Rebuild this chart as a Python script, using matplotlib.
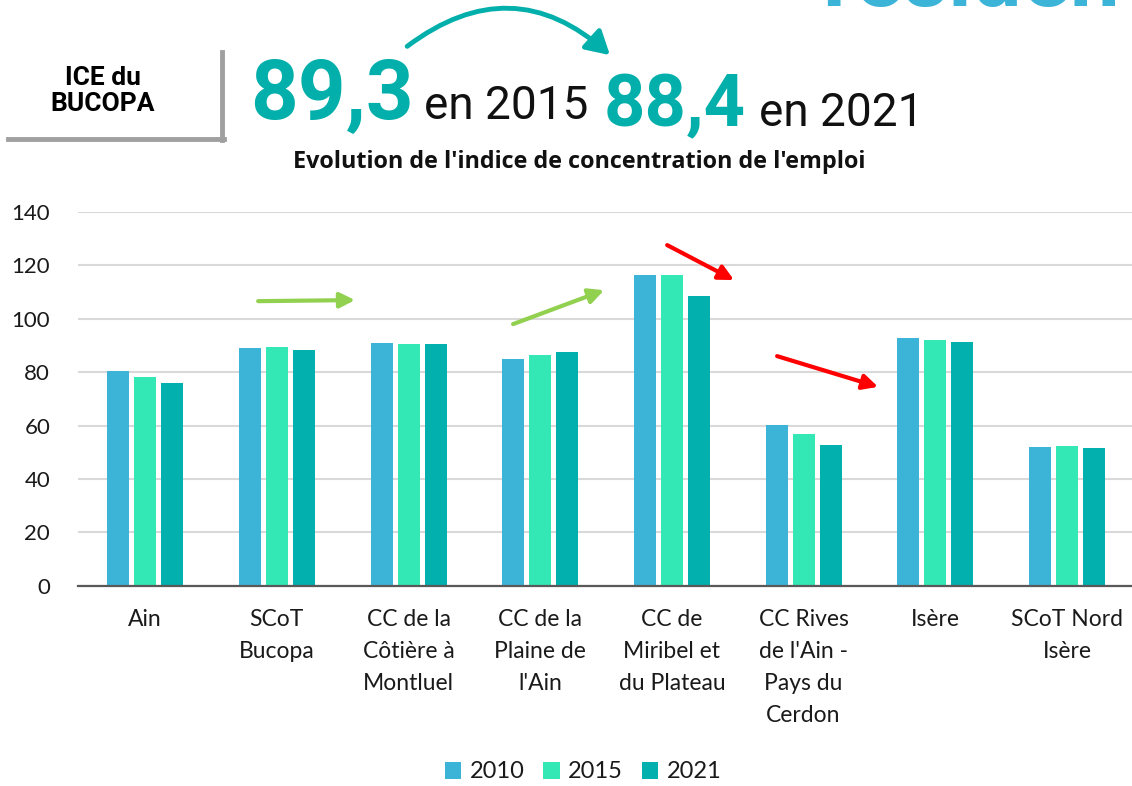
import matplotlib
matplotlib.use("Agg")
import matplotlib.pyplot as plt
import numpy as np
from matplotlib.patches import FancyArrowPatch
from matplotlib.lines import Line2D

categories = ["Ain", "SCoT\nBucopa", "CC de la\nCôtière à\nMontluel", "CC de la\nPlaine de\nl'Ain",
              "CC de\nMiribel et\ndu Plateau", "CC Rives\nde l'Ain -\nPays du\nCerdon", "Isère",
              "SCoT Nord\nIsère"]
years = ["2010", "2015", "2021"]
v2010 = [80.3, 88.9, 91.0, 84.8, 116.3, 60.2, 92.8, 52.0]
v2015 = [78.2, 89.3, 90.4, 86.4, 116.3, 56.8, 92.1, 52.5]
v2021 = [75.8, 88.4, 90.6, 87.7, 108.5, 52.7, 91.3, 51.6]
series = [v2010, v2015, v2021]
colors = ["#3CB4D7", "#33E8B5", "#02B0AD"]
yticks = [0, 20, 40, 60, 80, 100, 120, 140]

W, H = 1132, 786
fig = plt.figure(figsize=(W / 100, H / 100), dpi=100)

def fx(px):
    return px / W

def fy(py):
    return 1 - py / H

ax = fig.add_axes([fx(78), fy(585.7), fx(1132) - fx(78), fy(212) - fy(585.7)])
x = np.arange(len(categories))
bw = 0.167
step = 0.205
for i, (vals, c, yr) in enumerate(zip(series, colors, years)):
    ax.bar(x + (i - 1) * step, vals, width=bw, color=c, label=yr, zorder=3)

ax.set_xlim(-0.51, 7.494)
ax.set_ylim(0, 140)
ax.set_yticks(yticks)
ax.set_xticks(x)
ax.set_xticklabels(categories, fontsize=16.5, family="Lato", linespacing=1.65, color="#1a1a1a")
ax.tick_params(axis="y", labelsize=16, length=0, pad=20, labelcolor="#1a1a1a")
ax.tick_params(axis="x", length=0, pad=17)
for lab in ax.get_yticklabels():
    lab.set_family("Lato")
ax.grid(axis="y", color="#D9D9D9", lw=1.5, zorder=0)
for s in ["left", "right", "top"]:
    ax.spines[s].set_visible(False)
ax.spines["bottom"].set_color("#595959")
ax.spines["bottom"].set_linewidth(1.6)
ax.spines["bottom"].set_zorder(4)

# trend arrows (data coordinates)
def arr(p0, p1, col):
    ax.annotate("", xy=p1, xytext=p0,
                arrowprops=dict(arrowstyle="-|>,head_length=0.9,head_width=0.45", color=col,
                                lw=3, shrinkA=0, shrinkB=0), annotation_clip=False)

arr((0.858, 106.6), (1.594, 107.0), "#92D050")
arr((2.794, 98.0), (3.485, 110.7), "#92D050")
arr((3.964, 127.6), (4.472, 114.5), "#FF0000")
arr((4.799, 86.0), (5.566, 74.5), "#FF0000")

leg = fig.legend(loc="center", bbox_to_anchor=(fx(583), fy(772)), ncol=3, frameon=False,
                 prop={"family": "Lato", "size": 17}, handlelength=0.7, handleheight=0.7,
                 handletextpad=0.35, columnspacing=0.8)
for t in leg.get_texts():
    t.set_color("#1a1a1a")

# header
teal = "#02AFAA"
fig.text(fx(103), fy(91), "ICE du\nBUCOPA", ha="center", va="center", fontsize=19,
         family="Roboto", weight="bold", linespacing=1.1)
fig.add_artist(Line2D([fx(222), fx(222)], [fy(52), fy(140)], color="#A0A0A0", lw=3.5))
fig.add_artist(Line2D([fx(8), fx(224)], [fy(138.5), fy(138.5)], color="#A0A0A0", lw=3.5))

fig.text(fx(250), fy(119), "89,3", fontsize=60, family="Roboto", weight="bold", color=teal,
         va="baseline")
fig.text(fx(424), fy(119), "en 2015", fontsize=33, family="Roboto", color="#111111", va="baseline")
fig.text(fx(604), fy(126), "88,4", fontsize=52, family="Roboto", weight="bold", color=teal,
         va="baseline")
fig.text(fx(759), fy(126), "en 2021", fontsize=33, family="Roboto", color="#111111", va="baseline")

fig.add_artist(FancyArrowPatch((fx(405), fy(48)), (fx(612), fy(57)), transform=fig.transFigure,
                               connectionstyle="arc3,rad=-0.42",
                               arrowstyle="-|>,head_length=0.7,head_width=0.4",
                               mutation_scale=20, color=teal, lw=3.5))

fig.text(fx(822), fy(6), "residen", fontsize=64, family="Roboto", weight="bold",
         color="#3CB4D8", va="baseline")

fig.text(fx(579), fy(162), "Evolution de l'indice de concentration de l'emploi", ha="center",
         va="center", fontsize=16.8, family="Open Sans", weight="bold", color="#111111")

fig.savefig("out.png", dpi=100)
